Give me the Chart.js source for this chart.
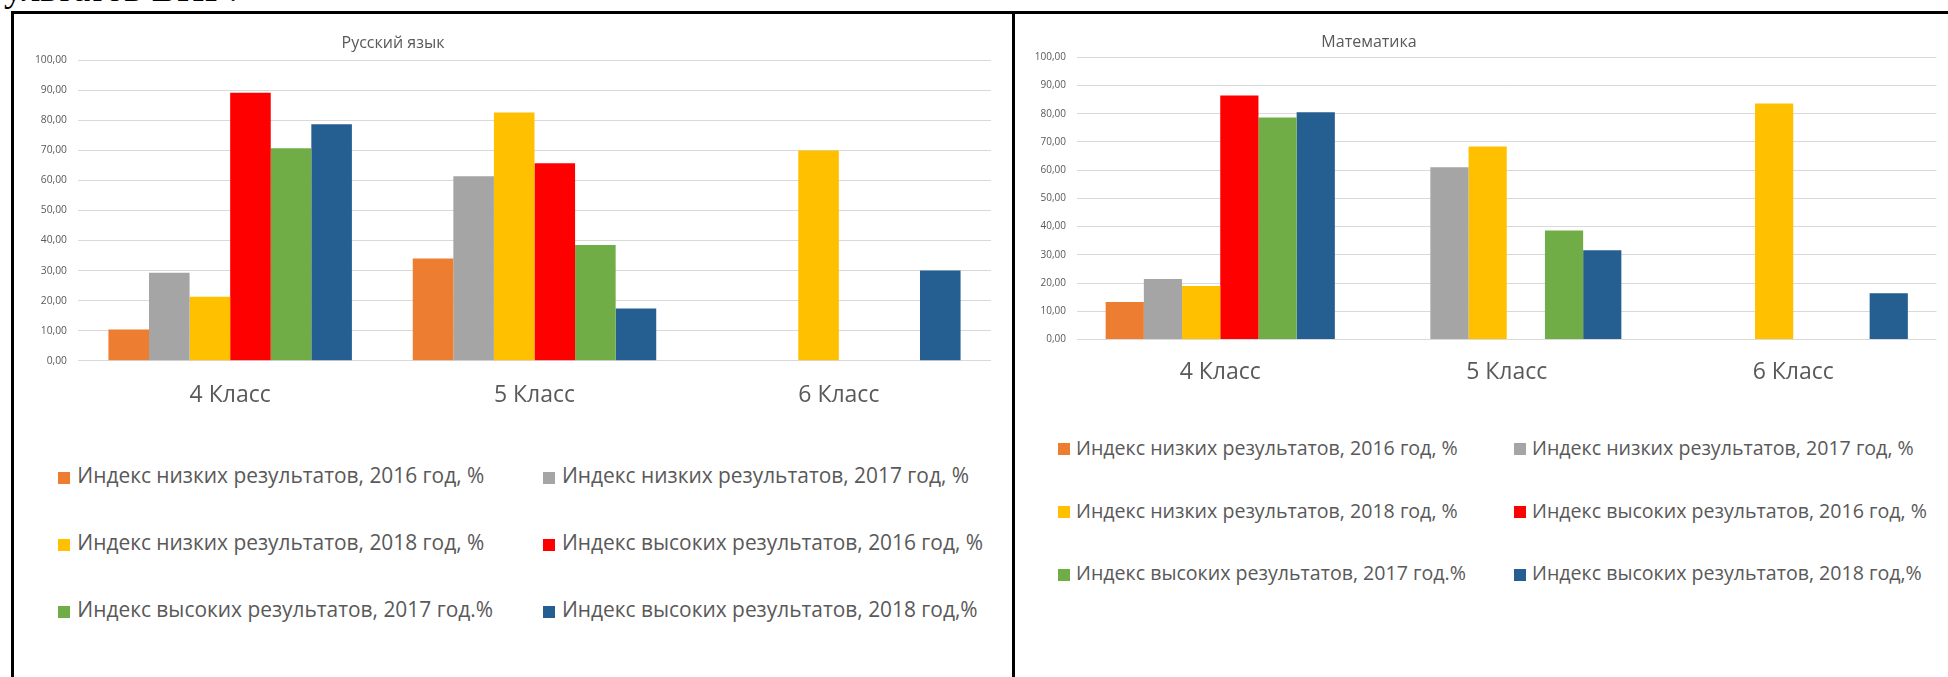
<!DOCTYPE html>
<html><head><meta charset="utf-8">
<script src="https://cdn.jsdelivr.net/npm/chart.js@4.4.1/dist/chart.umd.min.js"></script>
<style>
html,body{margin:0;padding:0;background:#fff;}
body{width:1948px;height:677px;position:relative;overflow:hidden;font-family:'Open Sans',sans-serif;}
.line{position:absolute;background:#000;}
.title{position:absolute;width:300px;text-align:center;font-size:16px;line-height:16px;color:#595959;white-space:nowrap;}
.leg{position:absolute;color:#595959;white-space:nowrap;}
.mk{position:absolute;width:12px;height:12px;}
canvas{position:absolute;}
</style></head><body>
<div id="toptext" style="position:absolute;left:4px;top:-30.5px;font-family:'Liberation Serif',serif;font-size:38px;line-height:36px;color:#000;white-space:nowrap;">ультатов ВПР?</div>
<div class="line" style="left:11px;top:11px;width:1937px;height:3px"></div>
<div class="line" style="left:11px;top:11px;width:3px;height:666px"></div>
<div class="line" style="left:1012px;top:11px;width:3px;height:666px"></div>
<canvas id="c1" width="998" height="400" style="left:14px;top:14px"></canvas>
<canvas id="c2" width="933" height="400" style="left:1015px;top:14px"></canvas>
<div class="title" style="left:243px;top:34px">Русский язык</div>
<div class="title" style="left:1219px;top:32.5px">Математика</div>
<div id="leg1"></div>
<div id="leg2"></div>
<script>
// ---- data ----
const categories = ['4 Класс', '5 Класс', '6 Класс'];
const seriesLabels = [
  'Индекс низких результатов, 2016 год, %',
  'Индекс низких результатов, 2017 год, %',
  'Индекс низких результатов, 2018 год, %',
  'Индекс высоких результатов, 2016 год, %',
  'Индекс высоких результатов, 2017 год.%',
  'Индекс высоких результатов, 2018 год,%'
];
const yTickLabels = ['0,00','10,00','20,00','30,00','40,00','50,00','60,00','70,00','80,00','90,00','100,00'];

// Русский язык
const rusLow2016  = [10.4, 34.0, null];
const rusLow2017  = [29.3, 61.4, null];
const rusLow2018  = [21.3, 82.6, 70.0];
const rusHigh2016 = [89.2, 65.7, null];
const rusHigh2017 = [70.7, 38.5, null];
const rusHigh2018 = [78.7, 17.4, 30.0];

// Математика
const mathLow2016  = [13.3, null, null];
const mathLow2017  = [21.4, 61.0, null];
const mathLow2018  = [19.0, 68.4, 83.6];
const mathHigh2016 = [86.5, null, null];
const mathHigh2017 = [78.7, 38.6, null];
const mathHigh2018 = [80.5, 31.6, 16.4];

// ---- styles ----
const seriesColors = ['#ED7D31', '#A5A5A5', '#FFC000', '#FF0000', '#70AD47', '#255E91'];
const TEXT = '#595959';
const FONT = "'Open Sans', sans-serif";

function makeChart(id, series, g) {
  const datasets = series.map((d, i) => ({
    label: seriesLabels[i],
    data: d,
    backgroundColor: seriesColors[i],
    borderWidth: 0,
    categoryPercentage: 0.8,
    barPercentage: 1.0
  }));
  return new Chart(document.getElementById(id), {
    type: 'bar',
    data: { labels: categories, datasets },
    options: {
      responsive: false,
      animation: false,
      devicePixelRatio: 1,
      layout: { padding: { top: g.padTop, right: g.padRight, left: 0, bottom: 0 } },
      plugins: { legend: { display: false }, title: { display: false }, tooltip: { enabled: false } },
      scales: {
        x: {
          grid: { display: false },
          border: { display: false },
          ticks: { color: TEXT, font: { family: FONT, size: g.xFont }, padding: g.xPad, maxRotation: 0 },
          afterFit: s => { s.height = g.xHeight; }
        },
        y: {
          min: 0, max: 100,
          ticks: {
            stepSize: 10, color: TEXT, padding: 11,
            font: { family: FONT, size: g.yFont },
            callback: (v, idx) => yTickLabels[idx]
          },
          grid: { color: '#D9D9D9', lineWidth: 1, drawTicks: false },
          border: { display: false },
          afterFit: s => { s.width = g.yWidth; }
        }
      }
    }
  });
}

makeChart('c1', [rusLow2016, rusLow2017, rusLow2018, rusHigh2016, rusHigh2017, rusHigh2018],
  { padTop: 46.3, padRight: 21, xHeight: 53.3, xPad: 13, xFont: 23, yFont: 10.3, yWidth: 64 });
makeChart('c2', [mathLow2016, mathLow2017, mathLow2018, mathHigh2016, mathHigh2017, mathHigh2018],
  { padTop: 43.3, padRight: 11.5, xHeight: 74.5, xPad: 11, xFont: 23, yFont: 10, yWidth: 62 });

function buildLegend(id, cols, baselines, fs) {
  const host = document.getElementById(id);
  seriesLabels.forEach((lab, i) => {
    const c = cols[i % 2], b = baselines[Math.floor(i / 2)];
    const mk = document.createElement('div');
    mk.className = 'mk';
    mk.style.left = c[0] + 'px';
    mk.style.top = (b - 12) + 'px';
    mk.style.background = seriesColors[i];
    host.appendChild(mk);
    const t = document.createElement('div');
    t.className = 'leg';
    t.style.left = c[1] + 'px';
    t.style.fontSize = fs + 'px';
    t.style.lineHeight = fs + 'px';
    t.style.top = (b - 0.888 * fs) + 'px';
    t.textContent = lab;
    host.appendChild(t);
  });
}
buildLegend('leg1', [[58.3, 77.3], [543, 562]], [484, 551, 618], 20.9);
buildLegend('leg2', [[1058, 1076], [1514, 1532]], [455, 518, 580.5], 19.6);
</script>
</body></html>
